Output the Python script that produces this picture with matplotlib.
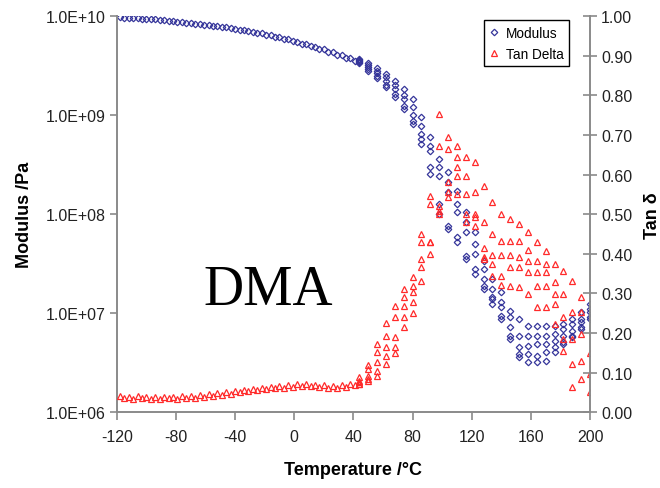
import numpy as np
import matplotlib
matplotlib.use('Agg')
import matplotlib.pyplot as plt
from matplotlib.ticker import FixedLocator, FuncFormatter, NullLocator
from matplotlib.lines import Line2D

plt.rcParams['font.family'] = ['Liberation Sans', 'DejaVu Sans']
plt.rcParams['axes.unicode_minus'] = False

# ---- data ----
# glassy region, two overlapping runs
t_low_a = [-118, -112, -106, -100, -94, -88, -82, -76, -70, -64, -58, -52, -46, -40,
           -34, -28, -22, -16, -10, -4, 2, 8, 14, 20, 26, 32, 38]
t_low_b = [-115, -109, -103, -97, -91, -85, -79, -73, -67, -61, -55, -49, -43, -37,
           -31, -25, -19, -13, -7, -1, 5, 11, 17, 23, 29, 35, 41]

mod_low_a = [9.77e9, 9.66e9, 9.55e9, 9.44e9, 9.33e9, 9.12e9, 8.91e9, 8.71e9, 8.51e9,
             8.32e9, 8.13e9, 7.94e9, 7.76e9, 7.41e9, 7.24e9, 6.92e9, 6.76e9, 6.46e9,
             6.17e9, 5.89e9, 5.50e9, 5.25e9, 4.90e9, 4.68e9, 4.37e9, 4.07e9, 3.80e9]
mod_low_b = [9.6e9, 9.5e9, 9.4e9, 9.3e9, 9.15e9, 8.95e9, 8.75e9, 8.55e9, 8.35e9,
             8.15e9, 7.95e9, 7.75e9, 7.5e9, 7.25e9, 7.0e9, 6.75e9, 6.45e9, 6.15e9,
             5.85e9, 5.55e9, 5.25e9, 4.95e9, 4.65e9, 4.35e9, 4.05e9, 3.8e9, 3.55e9]

tan_low_a = [0.040, 0.038, 0.040, 0.038, 0.038, 0.038, 0.038, 0.040, 0.040, 0.043,
             0.045, 0.048, 0.051, 0.053, 0.056, 0.058, 0.061, 0.063, 0.066, 0.068,
             0.071, 0.071, 0.068, 0.068, 0.066, 0.068, 0.071]
tan_low_b = [0.036, 0.034, 0.035, 0.034, 0.034, 0.035, 0.034, 0.035, 0.036, 0.038,
             0.041, 0.044, 0.047, 0.050, 0.053, 0.055, 0.058, 0.060, 0.062, 0.064,
             0.066, 0.065, 0.063, 0.062, 0.062, 0.064, 0.068]

# transition region, five runs
t_high = [44, 50, 56, 62, 68, 74, 80, 86, 92, 98, 104, 110, 116, 122, 128, 134, 140,
          146, 152, 158, 164, 170, 176, 182, 188, 194, 200]

mod_r1 = [3.68e9, 3.35e9, 2.99e9, 2.59e9, 2.20e9, 1.83e9, 1.45e9, 9.55e8, 6.00e8,
          3.59e8, 2.66e8, 1.71e8, 1.05e8, 6.58e7, 3.35e7, 2.20e7, 1.63e7, 1.05e7,
          8.69e6, 7.39e6, 7.39e6, 7.39e6, 7.39e6, 7.74e6, 8.69e6, 1.02e7, 1.23e7]
mod_r2 = [3.60e9, 3.20e9, 2.78e9, 2.42e9, 2.01e9, 1.59e9, 1.21e9, 7.74e8, 4.87e8,
          2.99e8, 2.10e8, 1.26e8, 8.30e7, 4.98e7, 2.78e7, 1.75e7, 1.29e7, 9.12e6,
          5.86e6, 5.86e6, 5.86e6, 5.86e6, 6.14e6, 6.89e6, 7.74e6, 8.69e6, 1.10e7]
mod_r3 = [3.51e9, 3.05e9, 2.66e9, 2.20e9, 1.83e9, 1.45e9, 1.00e9, 6.43e8, 4.33e8,
          2.42e8, 1.67e8, 1.05e8, 6.58e7, 3.94e7, 2.20e7, 1.45e7, 1.15e7, 7.23e6,
          4.54e6, 4.64e6, 4.86e6, 4.86e6, 5.21e6, 5.86e6, 6.58e6, 8.11e6, 1.02e7]
mod_r4 = [3.43e9, 2.92e9, 2.48e9, 2.01e9, 1.63e9, 1.23e9, 8.69e8, 5.73e8, 2.99e8,
          1.26e8, 7.57e7, 5.86e7, 3.77e7, 2.78e7, 1.87e7, 1.38e7, 9.33e6, 5.86e6,
          3.86e6, 3.86e6, 3.68e6, 4.04e6, 4.54e6, 5.09e6, 5.73e6, 7.23e6, 9.12e6]
mod_r5 = [3.35e9, 2.78e9, 2.37e9, 1.92e9, 1.52e9, 1.15e9, 8.11e8, 5.10e8, 2.54e8,
          1.00e8, 7.05e7, 5.21e7, 3.51e7, 2.48e7, 1.75e7, 1.23e7, 8.69e6, 5.46e6,
          3.60e6, 3.20e6, 3.20e6, 3.27e6, 4.04e6, 4.86e6, 5.86e6, 6.89e6, 8.69e6]

tan_r1 = [0.090, 0.120, 0.172, 0.225, 0.268, 0.311, 0.341, 0.449, 0.545, 0.753, 0.694,
          0.672, 0.644, 0.631, 0.571, 0.530, 0.500, 0.487, 0.475, 0.455, 0.429, 0.407,
          0.374, 0.356, 0.331, 0.290, np.nan]
tan_r2 = [0.080, 0.109, 0.152, 0.192, 0.240, 0.290, 0.318, 0.429, 0.525, 0.672, 0.664,
          0.644, 0.596, 0.556, 0.480, 0.449, 0.432, 0.432, 0.432, 0.410, 0.381, 0.374,
          0.328, 0.298, 0.253, 0.253, np.nan]
tan_r3 = [0.076, 0.091, 0.126, 0.164, 0.189, 0.268, 0.303, 0.386, 0.429, 0.520, 0.580,
          0.619, 0.551, 0.500, 0.415, 0.396, 0.396, 0.396, 0.391, 0.381, 0.353, 0.353,
          0.298, 0.240, 0.184, 0.197, 0.150]
tan_r4 = [0.072, 0.083, 0.104, 0.141, 0.164, 0.240, 0.278, 0.366, 0.430, 0.508, 0.556,
          0.596, 0.500, 0.492, 0.391, 0.374, 0.343, 0.366, 0.366, 0.353, 0.318, 0.318,
          0.273, 0.184, 0.121, 0.129, 0.096]
tan_r5 = [0.070, 0.078, 0.091, 0.121, 0.150, 0.215, 0.250, 0.330, 0.400, 0.500, 0.543,
          0.551, 0.480, 0.470, 0.386, 0.343, 0.320, 0.318, 0.316, 0.298, 0.265, 0.265,
          0.222, 0.154, 0.063, 0.083, 0.050]

# ---- figure ----
fig = plt.figure(figsize=(6.6, 4.89), dpi=100)
ax = fig.add_axes([0.177, 0.155, 0.717, 0.81])
ax2 = ax.twinx()

blue = '#35359a'
red = '#ff2a2a'
mod_style = dict(ls='none', marker='D', ms=3.3, mfc='none', mec=blue, mew=0.9)
tan_style = dict(ls='none', marker='^', ms=4.3, mfc='none', mec=red, mew=0.9)

ax.plot(t_low_a, mod_low_a, **mod_style)
ax.plot(t_low_b, mod_low_b, **mod_style)
for m in [mod_r1, mod_r2, mod_r3, mod_r4, mod_r5]:
    ax.plot(t_high, m, **mod_style)

ax2.plot(t_low_a, tan_low_a, **tan_style)
ax2.plot(t_low_b, tan_low_b, **tan_style)
for d in [tan_r1, tan_r2, tan_r3, tan_r4, tan_r5]:
    ax2.plot(t_high, d, **tan_style)

# axes limits / scales
ax.set_xlim(-120, 200)
ax.set_yscale('log')
ax.set_ylim(1e6, 1e10)
ax2.set_ylim(0, 1.0)

ax.xaxis.set_major_locator(FixedLocator([-120, -80, -40, 0, 40, 80, 120, 160, 200]))
ax.yaxis.set_major_locator(FixedLocator([1e6, 1e7, 1e8, 1e9, 1e10]))
ax.yaxis.set_minor_locator(NullLocator())
ax.yaxis.set_major_formatter(FuncFormatter(lambda v, p: '1.0E+%02d' % round(np.log10(v))))
ax2.yaxis.set_major_locator(FixedLocator(np.round(np.arange(0, 1.01, 0.1), 2)))
ax2.yaxis.set_major_formatter(FuncFormatter(lambda v, p: '%.2f' % v))

# spines
spine_col = '#8a8a8a'
for a in (ax, ax2):
    a.spines['top'].set_visible(False)
    for s in a.spines.values():
        s.set_color(spine_col)
        s.set_linewidth(1.4)
ax2.spines['left'].set_visible(False)
ax2.spines['bottom'].set_visible(False)
ax.spines['right'].set_visible(False)

ax.tick_params(axis='y', direction='out', length=5, width=1.2, color=spine_col,
               labelsize=11.5, pad=3, labelcolor='#222222')
ax.tick_params(axis='x', direction='out', length=6, width=1.2, color=spine_col,
               labelsize=11.5, pad=6, labelcolor='#222222')
ax2.tick_params(axis='y', direction='inout', length=10, width=1.2, color=spine_col,
                labelsize=11.5, pad=3, labelcolor='#222222')

ax.set_xlabel('Temperature /\u00b0C', fontsize=13, fontweight='bold', labelpad=12)
ax.set_ylabel('Modulus /Pa', fontsize=13, fontweight='bold', labelpad=9)
ax2.set_ylabel('Tan \u03b4', fontsize=13, fontweight='bold', labelpad=8)

# big title in the middle
ax.text(0.319, 0.273, 'DMA', transform=ax.transAxes, ha='center', va='baseline',
        fontsize=40, family=['Liberation Serif', 'DejaVu Serif'])

# legend
h1 = Line2D([], [], **mod_style)
h2 = Line2D([], [], **tan_style)
leg = ax2.legend([h1, h2], ['Modulus', 'Tan Delta'], loc='upper left',
                 bbox_to_anchor=(0.776, 0.99), fontsize=9.8, numpoints=1,
                 handlelength=0.7, handletextpad=0.5, borderpad=0.4,
                 labelspacing=0.55, borderaxespad=0.0,
                 fancybox=False, framealpha=1, edgecolor='black')
leg.get_frame().set_linewidth(1.0)

fig.savefig('out.png', dpi=100)
